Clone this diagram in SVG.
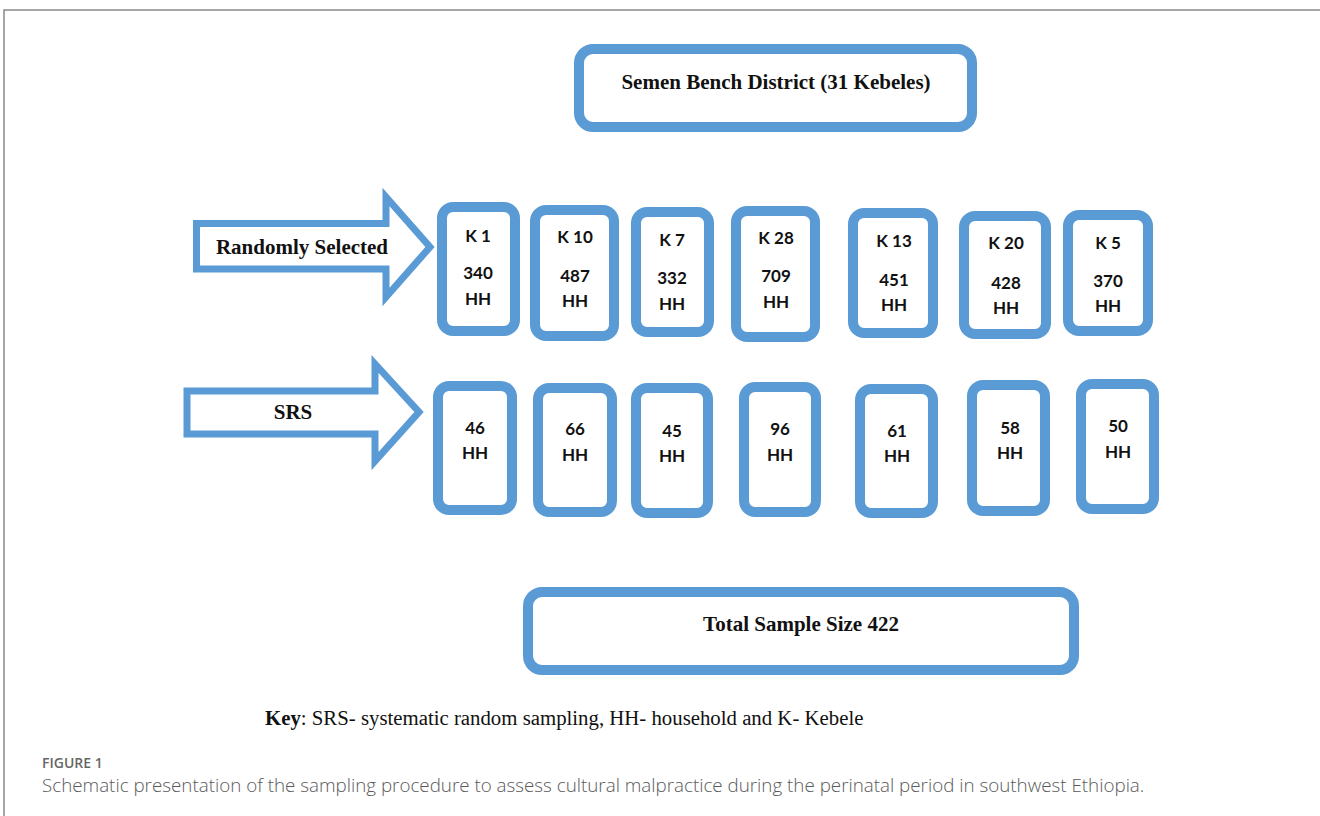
<svg xmlns="http://www.w3.org/2000/svg" width="1320" height="816" viewBox="0 0 1320 816">
  <style>
    .box { fill: #ffffff; stroke: #5b9bd5; stroke-width: 10; }
    .arrow { fill: #ffffff; stroke: #5b9bd5; stroke-width: 7; stroke-linejoin: miter; }
    .serif { font-family: "Liberation Serif", "Times New Roman", serif; font-weight: bold; font-size: 21px; fill: #111; text-anchor: middle; }
    .cell { font-family: Lato, "Open Sans", sans-serif; font-weight: bold; font-size: 17px; fill: #111; text-anchor: middle; }
    .frame { fill: none; stroke: #8a8a8a; stroke-width: 1.5; }
  </style>

  <rect width="1320" height="816" fill="#ffffff"/>
  <!-- figure frame -->
  <path class="frame" d="M4,816 V10 H1320"/>

  <!-- district -->
  <g id="district">
    <rect class="box" x="579" y="49" width="393" height="78" rx="14"/>
    <text class="serif" x="776" y="89">Semen Bench District (31 Kebeles)</text>
  </g>

  <!-- step arrows -->
  <g id="connectors">
    <g id="arrow-random">
      <polygon class="arrow" points="196.5,223.5 386,223.5 386,197 430,247 386,297 386,269 196.5,269"/>
      <text class="serif" x="302" y="254">Randomly Selected</text>
    </g>
    <g id="arrow-srs">
      <polygon class="arrow" points="187,391 375,391 375,364 419,412 375,461 375,434 187,434"/>
      <text class="serif" x="293" y="419">SRS</text>
    </g>
  </g>

  <!-- randomly selected kebeles -->
  <g id="k1">
    <rect class="box" x="442" y="207" width="73" height="124" rx="11"/>
    <text class="cell" x="478" y="242">K 1</text>
    <text class="cell" x="478" y="279">340</text>
    <text class="cell" x="478" y="305">HH</text>
  </g>
  <g id="k10">
    <rect class="box" x="535" y="210" width="79" height="126" rx="11"/>
    <text class="cell" x="575" y="243">K 10</text>
    <text class="cell" x="575" y="282">487</text>
    <text class="cell" x="575" y="307">HH</text>
  </g>
  <g id="k7">
    <rect class="box" x="636" y="212" width="73" height="120" rx="11"/>
    <text class="cell" x="672" y="246">K 7</text>
    <text class="cell" x="672" y="284">332</text>
    <text class="cell" x="672" y="310">HH</text>
  </g>
  <g id="k28">
    <rect class="box" x="736" y="211" width="79" height="126" rx="11"/>
    <text class="cell" x="776" y="244">K 28</text>
    <text class="cell" x="776" y="282">709</text>
    <text class="cell" x="776" y="308">HH</text>
  </g>
  <g id="k13">
    <rect class="box" x="853" y="213" width="80" height="120" rx="11"/>
    <text class="cell" x="894" y="247">K 13</text>
    <text class="cell" x="894" y="286">451</text>
    <text class="cell" x="894" y="311">HH</text>
  </g>
  <g id="k20">
    <rect class="box" x="964" y="216" width="82" height="118" rx="11"/>
    <text class="cell" x="1006" y="249">K 20</text>
    <text class="cell" x="1006" y="289">428</text>
    <text class="cell" x="1006" y="314">HH</text>
  </g>
  <g id="k5">
    <rect class="box" x="1068" y="215" width="80" height="116" rx="11"/>
    <text class="cell" x="1108" y="249">K 5</text>
    <text class="cell" x="1108" y="287">370</text>
    <text class="cell" x="1108" y="312">HH</text>
  </g>

  <!-- systematic samples -->
  <g id="s1">
    <rect class="box" x="438" y="386" width="74" height="124" rx="11"/>
    <text class="cell" x="475" y="434">46</text>
    <text class="cell" x="475" y="459">HH</text>
  </g>
  <g id="s10">
    <rect class="box" x="538" y="388" width="74" height="124" rx="11"/>
    <text class="cell" x="575" y="435">66</text>
    <text class="cell" x="575" y="461">HH</text>
  </g>
  <g id="s7">
    <rect class="box" x="636" y="388" width="72" height="125" rx="11"/>
    <text class="cell" x="672" y="437">45</text>
    <text class="cell" x="672" y="462">HH</text>
  </g>
  <g id="s28">
    <rect class="box" x="744" y="387" width="72" height="125" rx="11"/>
    <text class="cell" x="780" y="435">96</text>
    <text class="cell" x="780" y="461">HH</text>
  </g>
  <g id="s13">
    <rect class="box" x="860" y="389" width="73" height="124" rx="11"/>
    <text class="cell" x="897" y="437">61</text>
    <text class="cell" x="897" y="462">HH</text>
  </g>
  <g id="s20">
    <rect class="box" x="972" y="385" width="73" height="126" rx="11"/>
    <text class="cell" x="1010" y="434">58</text>
    <text class="cell" x="1010" y="459">HH</text>
  </g>
  <g id="s5">
    <rect class="box" x="1081" y="384" width="73" height="125" rx="11"/>
    <text class="cell" x="1118" y="432">50</text>
    <text class="cell" x="1118" y="458">HH</text>
  </g>

  <!-- total -->
  <g id="total">
    <rect class="box" x="528" y="592" width="546" height="78" rx="14"/>
    <text class="serif" x="801" y="631">Total Sample Size 422</text>
  </g>

  <!-- key -->
  <text x="265" y="725" font-family="'Liberation Serif', 'Times New Roman', serif" font-size="20.8" fill="#111"><tspan font-weight="bold">Key</tspan>: SRS- systematic random sampling, HH- household and K- Kebele</text>

  <!-- caption -->
  <text x="42" y="768" font-family="'Open Sans', sans-serif" font-size="14" font-weight="600" fill="#666666">FIGURE 1</text>
  <text x="42" y="792" font-family="'Open Sans', sans-serif" font-size="18.8" font-weight="300" fill="#5a5a5a">Schematic presentation of the sampling procedure to assess cultural malpractice during the perinatal period in southwest Ethiopia.</text>
</svg>
